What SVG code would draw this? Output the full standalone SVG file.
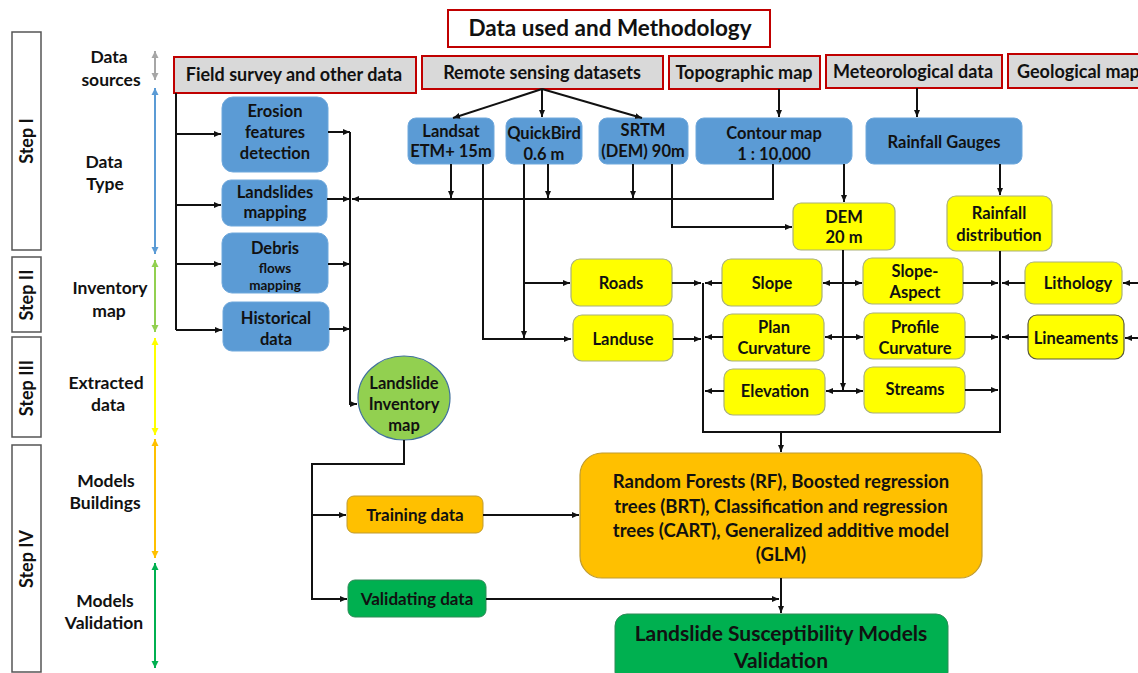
<svg xmlns="http://www.w3.org/2000/svg" width="1138" height="673" viewBox="0 0 1138 673">
<style>
text{font-family:Lato,"Open Sans","Liberation Sans",sans-serif;font-weight:700;fill:#111;text-anchor:middle}
.t18{font-size:18px}
.t17{font-size:17px}
.t16{font-size:16.5px}
.t13{font-size:13.5px}
.src{fill:#D9D9D9;stroke:#C00000;stroke-width:2}
.blue{fill:#5B9BD5;stroke:#6FA8DC;stroke-width:1}
.yel{fill:#FFFF00;stroke:#A9B07A;stroke-width:1.2}
.step{fill:#fff;stroke:#555;stroke-width:1.5}
.c{fill:none;stroke:#111;stroke-width:2}
.ca{fill:none;stroke:#111;stroke-width:2;marker-end:url(#ah)}
.cd{fill:none;stroke:#111;stroke-width:2;marker-end:url(#ah);marker-start:url(#ahs)}
</style>
<defs>
<marker id="ah" markerUnits="userSpaceOnUse" markerWidth="8" markerHeight="7" refX="7" refY="3.5" orient="auto"><path d="M0,0.5 L7,3.5 L0,6.5 z" fill="#111"/></marker>
<marker id="ahs" markerUnits="userSpaceOnUse" markerWidth="8" markerHeight="7" refX="7" refY="3.5" orient="auto-start-reverse"><path d="M0,0.5 L7,3.5 L0,6.5 z" fill="#111"/></marker>
<marker id="mg" markerUnits="userSpaceOnUse" markerWidth="8" markerHeight="8" refX="7" refY="4" orient="auto-start-reverse"><path d="M0,0.5 L7,4 L0,7.5 z" fill="#A6A6A6"/></marker>
<marker id="mb" markerUnits="userSpaceOnUse" markerWidth="8" markerHeight="8" refX="7" refY="4" orient="auto-start-reverse"><path d="M0,0.5 L7,4 L0,7.5 z" fill="#5B9BD5"/></marker>
<marker id="ml" markerUnits="userSpaceOnUse" markerWidth="8" markerHeight="8" refX="7" refY="4" orient="auto-start-reverse"><path d="M0,0.5 L7,4 L0,7.5 z" fill="#92D050"/></marker>
<marker id="my" markerUnits="userSpaceOnUse" markerWidth="8" markerHeight="8" refX="7" refY="4" orient="auto-start-reverse"><path d="M0,0.5 L7,4 L0,7.5 z" fill="#FFFF00"/></marker>
<marker id="mo" markerUnits="userSpaceOnUse" markerWidth="8" markerHeight="8" refX="7" refY="4" orient="auto-start-reverse"><path d="M0,0.5 L7,4 L0,7.5 z" fill="#FFC000"/></marker>
<marker id="mgr" markerUnits="userSpaceOnUse" markerWidth="8" markerHeight="8" refX="7" refY="4" orient="auto-start-reverse"><path d="M0,0.5 L7,4 L0,7.5 z" fill="#00B050"/></marker>
</defs>
<rect width="1138" height="673" fill="#fff"/>

<g id="title"><rect x="448" y="10" width="322" height="37" fill="#fff" stroke="#C00000" stroke-width="2"/><text x="610" y="36" style="font-size:22.5px">Data used and Methodology</text></g>

<g id="steps">
<rect class="step" x="12" y="32" width="29" height="218"/><text class="t18" transform="translate(33,141) rotate(-90)">Step I</text>
<rect class="step" x="12" y="257" width="29" height="75"/><text class="t18" transform="translate(33,295) rotate(-90)">Step II</text>
<rect class="step" x="12" y="337" width="29" height="100"/><text class="t18" transform="translate(33,388) rotate(-90)">Step III</text>
<rect class="step" x="12" y="445" width="29" height="227"/><text class="t18" transform="translate(33,559) rotate(-90)">Step IV</text>
</g>

<g id="phase-labels" style="font-size:17.5px">
<text x="109" y="63" style="font-size:17.5px">Data</text><text x="111" y="86" style="font-size:17.5px">sources</text>
<text x="104" y="168" style="font-size:17.5px">Data</text><text x="105" y="190" style="font-size:17.5px">Type</text>
<text x="110" y="294" style="font-size:17.5px">Inventory</text><text x="109" y="317" style="font-size:17.5px">map</text>
<text x="106" y="389" style="font-size:17.5px">Extracted</text><text x="108" y="411" style="font-size:17.5px">data</text>
<text x="106" y="487" style="font-size:17.5px">Models</text><text x="105" y="509" style="font-size:17.5px">Buildings</text>
<text x="105" y="607" style="font-size:17.5px">Models</text><text x="104" y="629" style="font-size:17.5px">Validation</text>
</g>

<g id="phase-arrows" fill="none" stroke-width="2">
<path d="M155,51 V80" stroke="#A6A6A6" marker-start="url(#mg)" marker-end="url(#mg)"/>
<path d="M155,88 V254" stroke="#5B9BD5" marker-start="url(#mb)" marker-end="url(#mb)"/>
<path d="M155,260 V332" stroke="#92D050" marker-start="url(#ml)" marker-end="url(#ml)"/>
<path d="M155,338 V435" stroke="#FFFF00" marker-start="url(#my)" marker-end="url(#my)"/>
<path d="M155,439 V558" stroke="#FFC000" marker-start="url(#mo)" marker-end="url(#mo)"/>
<path d="M155,563 V668" stroke="#00B050" marker-start="url(#mgr)" marker-end="url(#mgr)"/>
</g>

<g id="src-field"><rect class="src" x="174" y="57" width="242" height="36"/><text class="t18" x="294" y="81">Field survey and other data</text></g>
<g id="src-remote"><rect class="src" x="422" y="56" width="241" height="33"/><text class="t18" x="542" y="79">Remote sensing datasets</text></g>
<g id="src-topo"><rect class="src" x="669" y="56" width="151" height="33"/><text class="t18" x="744" y="79">Topographic map</text></g>
<g id="src-meteo"><rect class="src" x="826" y="55" width="176" height="33"/><text class="t18" x="913" y="78">Meteorological data</text></g>
<g id="src-geo"><rect class="src" x="1008" y="54" width="140" height="34"/><text class="t18" x="1017" y="78" style="text-anchor:start">Geological map</text></g>

<g id="erosion"><rect class="blue" x="222" y="97" width="106" height="75" rx="11"/><text class="t16" x="275" y="117">Erosion</text><text class="t16" x="275" y="138">features</text><text class="t16" x="275" y="159">detection</text></g>
<g id="landslides"><rect class="blue" x="222" y="180" width="105" height="46" rx="9"/><text class="t16" x="275" y="198">Landslides</text><text class="t16" x="275" y="218">mapping</text></g>
<g id="debris"><rect class="blue" x="222" y="233" width="106" height="60" rx="10"/><text class="t16" x="275" y="254">Debris</text><text class="t13" x="275" y="273">flows</text><text class="t13" x="275" y="290">mapping</text></g>
<g id="historical"><rect class="blue" x="223" y="302" width="106" height="49" rx="9"/><text class="t16" x="276" y="324">Historical</text><text class="t16" x="276" y="345">data</text></g>

<g id="landsat"><rect class="blue" x="408" y="118" width="86" height="46" rx="8"/><text class="t16" x="451" y="137">Landsat</text><text class="t16" x="451" y="157">ETM+ 15m</text></g>
<g id="quickbird"><rect class="blue" x="506" y="118" width="76" height="46" rx="8"/><text class="t16" x="544" y="139">QuickBird</text><text class="t16" x="544" y="160">0.6 m</text></g>
<g id="srtm"><rect class="blue" x="599" y="118" width="89" height="46" rx="8"/><text class="t16" x="643" y="136">SRTM</text><text class="t16" x="643" y="157">(DEM) 90m</text></g>
<g id="contour"><rect class="blue" x="696" y="118" width="156" height="46" rx="8"/><text class="t16" x="774" y="139">Contour map</text><text class="t16" x="774" y="160">1 : 10,000</text></g>
<g id="gauges"><rect class="blue" x="866" y="118" width="156" height="46" rx="8"/><text class="t16" x="944" y="148">Rainfall Gauges</text></g>

<g id="dem"><rect class="yel" x="793" y="203" width="102" height="47" rx="8"/><text class="t16" x="844" y="223">DEM</text><text class="t16" x="844" y="243">20 m</text></g>
<g id="rainfall"><rect class="yel" x="947" y="196" width="105" height="55" rx="9"/><text class="t16" x="999" y="219">Rainfall</text><text class="t16" x="999" y="241">distribution</text></g>
<g id="roads"><rect class="yel" x="571" y="259" width="101" height="47" rx="9"/><text class="t16" x="621" y="289">Roads</text></g>
<g id="landuse"><rect class="yel" x="573" y="315" width="100" height="46" rx="9"/><text class="t16" x="623" y="345">Landuse</text></g>
<g id="slope"><rect class="yel" x="722" y="259" width="100" height="47" rx="9"/><text class="t16" x="772" y="289">Slope</text></g>
<g id="aspect"><rect class="yel" x="863" y="258" width="100" height="46" rx="9"/><text class="t16" x="915" y="277">Slope-</text><text class="t16" x="915" y="298">Aspect</text></g>
<g id="plan"><rect class="yel" x="723" y="314" width="101" height="47" rx="9"/><text class="t16" x="774" y="333">Plan</text><text class="t16" x="774" y="354">Curvature</text></g>
<g id="profile"><rect class="yel" x="864" y="313" width="101" height="46" rx="9"/><text class="t16" x="915" y="333">Profile</text><text class="t16" x="915" y="354">Curvature</text></g>
<g id="elevation"><rect class="yel" x="724" y="369" width="101" height="46" rx="9"/><text class="t16" x="775" y="397">Elevation</text></g>
<g id="streams"><rect class="yel" x="864" y="367" width="101" height="46" rx="9"/><text class="t16" x="915" y="395">Streams</text></g>
<g id="lithology"><rect class="yel" x="1025" y="262" width="97" height="42" rx="9"/><text class="t16" x="1078" y="289">Lithology</text></g>
<g id="lineaments"><rect x="1028" y="315" width="96" height="44" rx="9" fill="#FFFF00" stroke="#5a5a3a" stroke-width="1.2"/><text class="t16" x="1076" y="344">Lineaments</text></g>

<g id="inventory"><ellipse cx="404" cy="398" rx="46" ry="42" fill="#92D050" stroke="#41719C" stroke-width="1.2"/><text class="t16" x="404" y="389">Landslide</text><text class="t16" x="404" y="410">Inventory</text><text class="t16" x="404" y="431">map</text></g>
<g id="training"><rect x="347" y="496" width="136" height="37" rx="7" fill="#FFC000" stroke="#BF9B30" stroke-width="1"/><text class="t17" x="415" y="521">Training data</text></g>
<g id="validating"><rect x="348" y="580" width="138" height="37" rx="7" fill="#00B050" stroke="#2E8B57" stroke-width="1"/><text class="t17" x="417" y="605">Validating data</text></g>
<g id="models"><rect x="580" y="453" width="402" height="125" rx="22" fill="#FFC000" stroke="#BF9B30" stroke-width="1.2"/>
<text x="781" y="488" style="font-size:18.5px">Random Forests (RF), Boosted regression</text>
<text x="781" y="513" style="font-size:18.5px">trees (BRT), Classification and regression</text>
<text x="781" y="537" style="font-size:18.5px">trees (CART), Generalized additive model</text>
<text x="781" y="561" style="font-size:18.5px">(GLM)</text></g>
<g id="final"><rect x="615" y="614" width="333" height="70" rx="12" fill="#00B050" stroke="#2E8B57" stroke-width="1"/><text x="781" y="641" style="font-size:21px">Landslide Susceptibility Models</text><text x="781" y="668" style="font-size:21px">Validation</text></g>

<g id="connectors">
<path class="c" d="M176,93 V330"/>
<path class="ca" d="M176,134 H221"/><path class="ca" d="M176,205 H221"/><path class="ca" d="M176,264 H221"/><path class="ca" d="M176,330 H222"/>
<path class="ca" d="M328,132 H350"/><path class="ca" d="M327,199 H350"/><path class="ca" d="M328,264 H350"/><path class="ca" d="M329,329 H350"/>
<path class="ca" d="M350,132 V404 H357"/>
<path class="ca" d="M773,164 V199 H352"/>
<path class="ca" d="M451,164 V198"/><path class="ca" d="M548,164 V198"/><path class="ca" d="M633,164 V198"/>
<path class="ca" d="M483,164 V339 H571"/>
<path class="ca" d="M524,164 V338"/><path class="ca" d="M524,283 H570"/>
<path class="ca" d="M672,164 V227 H792"/>
<path class="ca" d="M844,164 V202"/>
<path class="ca" d="M779,89 V117"/><path class="ca" d="M917,88 V117"/>
<path class="ca" d="M542,89 L453,118"/><path class="ca" d="M542,89 V117"/><path class="ca" d="M542,89 L642,118"/>
<path class="ca" d="M1000,164 V195"/>
<path class="ca" d="M843,250 V390"/>
<path class="cd" d="M823,283 H862"/><path class="cd" d="M825,337 H863"/><path class="cd" d="M826,391 H863"/>
<path class="c" d="M703,283 V432 H1000 V251"/>
<path class="ca" d="M781,432 V452"/>
<path class="ca" d="M672,283 H701"/><path class="ca" d="M673,339 H701"/>
<path class="ca" d="M722,283 H705"/><path class="ca" d="M723,337 H705"/><path class="ca" d="M724,391 H705"/>
<path class="ca" d="M963,283 H998"/><path class="ca" d="M965,337 H998"/><path class="ca" d="M965,390 H998"/>
<path class="ca" d="M1025,283 H1002"/><path class="ca" d="M1028,337 H1002"/>
<path class="ca" d="M1138,283 H1123"/><path class="ca" d="M1138,338 H1125"/>
<path class="ca" d="M404,440 V464 H312 V599 H347"/><path class="ca" d="M312,515 H346"/>
<path class="ca" d="M483,515 H579"/>
<path class="ca" d="M486,599 H779"/>
<path class="ca" d="M781,578 V613"/>
</g>
</svg>
